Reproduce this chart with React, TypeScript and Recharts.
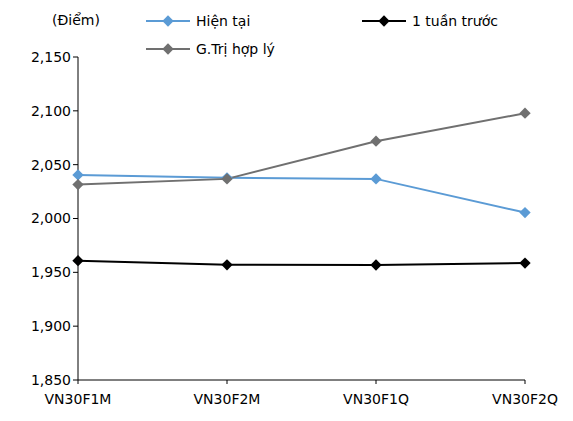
import { LineChart, Line, XAxis, YAxis } from 'recharts';

const categories = ['VN30F1M', 'VN30F2M', 'VN30F1Q', 'VN30F2Q'];
const hienTai = [2040.5, 2037.8, 2036.8, 2005.5];
const tuanTruoc = [1960.8, 1957, 1956.8, 1958.6];
const giaTri = [2031.5, 2036.8, 2071.8, 2097.8];
const yTicks = [1850, 1900, 1950, 2000, 2050, 2100, 2150];

const data = categories.map((c, i) => ({ name: c, hienTai: hienTai[i], tuanTruoc: tuanTruoc[i], giaTri: giaTri[i] }));

const font = 'DejaVu Sans, Verdana, sans-serif';

function LegendItem({ x, y, color, label }: { x: number; y: number; color: string; label: string }) {
    return (
        <div style={{ position: 'absolute', left: x, top: y - 9, display: 'flex', alignItems: 'center', fontFamily: font, fontSize: 14, color: '#000' }}>
            <svg width={46} height={14}>
                <line x1={0} y1={7} x2={44} y2={7} stroke={color} strokeWidth={2} />
                <rect x={18} y={3} width={8} height={8} fill={color} transform="rotate(45 22 7)" />
            </svg>
            <span style={{ marginLeft: 4 }}>{label}</span>
        </div>
    );
}

export default function App() {
    const diamond = (color: string) => (props: any) => {
        const { cx, cy, index } = props;
        return <rect key={index} x={cx - 4} y={cy - 4} width={8} height={8} fill={color} transform={`rotate(45 ${cx} ${cy})`} />;
    };
    return (
        <div style={{ position: 'absolute', left: 0, top: 0, width: 573, height: 421, background: '#fff' }}>
            <div style={{ position: 'absolute', left: 52, top: 12, fontFamily: font, fontSize: 14 }}>(Điểm)</div>
            <LegendItem x={146} y={22} color="#5B9BD5" label="Hiện tại" />
            <LegendItem x={362} y={22} color="#000000" label="1 tuần trước" />
            <LegendItem x={146} y={50} color="#707070" label="G.Trị hợp lý" />
            <LineChart width={573} height={421} data={data} margin={{ top: 57, right: 48, bottom: 11, left: 0 }}>
                <XAxis dataKey="name" height={30} stroke="#000" tick={{ fill: '#000', fontSize: 14, fontFamily: font }} tickSize={4} tickMargin={10} padding={{ left: 0, right: 0 }} interval={0} />
                <YAxis domain={[1850, 2150]} ticks={yTicks} width={78} stroke="#000" tickSize={5}
                    tick={{ fill: '#000', fontSize: 14, fontFamily: font }} tickFormatter={(v: number) => v.toLocaleString('en-US')} />
                <Line dataKey="hienTai" stroke="#5B9BD5" strokeWidth={2} dot={diamond('#5B9BD5')} isAnimationActive={false} />
                <Line dataKey="tuanTruoc" stroke="#000" strokeWidth={2} dot={diamond('#000')} isAnimationActive={false} />
                <Line dataKey="giaTri" stroke="#707070" strokeWidth={2} dot={diamond('#707070')} isAnimationActive={false} />
            </LineChart>
        </div>
    );
}
